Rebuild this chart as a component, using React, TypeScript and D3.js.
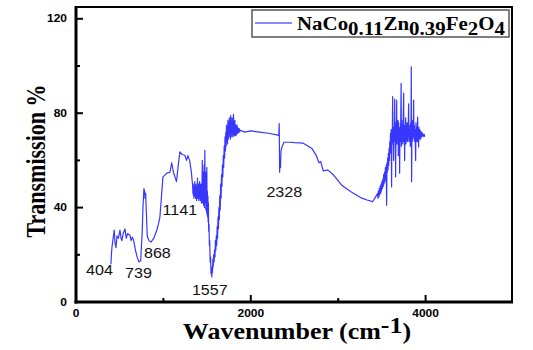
import React from "react";
import * as d3 from "d3";

const W = 533;
const H = 350;

// Spectrum as [wavenumber (cm-1), transmission (%)]
const lowRegion: [number, number][] = [
  [400, 16], [405, 20], [411, 23], [425, 27], [437, 30.5], [447, 25], [457, 23], [470, 28], [485, 27], [503, 30.5],
  [515, 27], [525, 26], [540, 29], [560, 31], [575, 27], [590, 29], [605, 28.5], [617, 28.5], [630, 26], [645, 27.5],
  [660, 26], [680, 22], [700, 19], [720, 17], [740, 17.5], [758, 30], [766, 40], [777, 48], [785, 47], [790, 44],
  [797, 46], [805, 38], [815, 28], [835, 26], [857, 25.4], [870, 26], [890, 27], [925, 30.5], [940, 32.6], [960, 36],
  [995, 53], [1040, 54.6], [1075, 55], [1095, 59], [1115, 55], [1150, 51], [1170, 58], [1189, 63.6], [1215, 62.5],
  [1245, 62.2], [1265, 60], [1280, 62], [1300, 60], [1320, 55],
];

const band1400: [number, number][] = [
  [1335, 49], [1338, 46], [1341, 50], [1344, 45], [1347, 48], [1350, 44], [1353, 49], [1356, 46], [1359, 51], [1362, 45],
  [1365, 48], [1368, 44], [1371, 50], [1374, 46], [1377, 49], [1380, 43], [1383, 48], [1386, 45], [1390, 52.5], [1393, 44],
  [1396, 49], [1399, 45], [1402, 50], [1405, 43], [1408, 48], [1411, 45], [1414, 51], [1417, 44], [1420, 48], [1423, 43],
  [1426, 50], [1429, 45], [1432, 49], [1435, 42], [1438, 50], [1441, 46], [1445, 60], [1448, 42], [1451, 51], [1454, 44],
  [1457, 55], [1460, 41], [1463, 50], [1466, 58], [1469, 40], [1472, 52], [1474, 64.3], [1477, 42], [1480, 50], [1483, 55],
  [1486, 39], [1489, 48], [1492, 52], [1495, 38], [1497, 57], [1500, 37], [1503, 47], [1506, 36], [1509, 45], [1512, 34],
  [1515, 42], [1518, 30], [1522, 33], [1526, 24], [1530, 26], [1535, 17], [1540, 19], [1545, 12], [1550, 14], [1554, 10.6],
  [1558, 15], [1562, 12.5], [1566, 18], [1570, 15], [1575, 20], [1580, 17], [1585, 22], [1590, 19],
];

const band1750: [number, number][] = [
  [1595, 26], [1600, 22], [1605, 28], [1610, 24], [1615, 32], [1620, 27], [1625, 36], [1630, 31], [1635, 40], [1640, 35],
  [1645, 45], [1650, 39], [1655, 50], [1660, 44], [1665, 54], [1670, 49], [1675, 58], [1680, 53], [1685, 62], [1690, 57],
  [1695, 66], [1700, 61], [1705, 70], [1710, 64], [1714, 72], [1718, 66], [1722, 75], [1726, 68], [1730, 74], [1734, 67],
  [1738, 77], [1742, 69], [1746, 76], [1750, 70], [1754, 78], [1758, 71], [1762, 75], [1766, 69], [1770, 79], [1774, 72],
  [1778, 76], [1782, 70], [1786, 78], [1790, 71], [1794, 75], [1798, 70], [1802, 79.5], [1806, 71], [1810, 76], [1814, 70.5],
  [1818, 77], [1822, 71], [1826, 75], [1830, 70.5], [1834, 74.5], [1838, 71], [1842, 75], [1846, 71.5], [1850, 74], [1854, 71.5],
  [1858, 73.5], [1862, 72], [1866, 73.5], [1870, 72], [1875, 73], [1880, 72.5],
];

const midRegion: [number, number][] = [
  [1900, 72.5], [1930, 72], [2000, 72.5], [2100, 72], [2200, 71.5], [2300, 70.8], [2320, 70.5], [2325, 75.6], [2330, 55],
  [2335, 60], [2340, 57], [2345, 64], [2360, 66], [2380, 67.7], [2450, 67.7], [2500, 67.5], [2600, 67.3], [2700, 65],
  [2750, 62], [2780, 59], [2800, 59.5], [2830, 55.5], [2880, 56], [2950, 53.7], [3040, 49.5], [3150, 46.6], [3270, 44],
  [3330, 43.2], [3394, 42.5], [3420, 44],
];

const band3700: [number, number][] = [
  [3450, 46], [3455, 44], [3460, 47], [3465, 44.5], [3470, 48], [3475, 45.5], [3480, 49], [3485, 46], [3490, 50], [3495, 47],
  [3500, 51], [3505, 48], [3510, 52], [3515, 49], [3520, 54], [3525, 50], [3530, 55], [3535, 51], [3540, 57], [3545, 52],
  [3550, 58], [3554, 41], [3558, 59], [3562, 55], [3566, 61], [3570, 56], [3574, 63], [3578, 58], [3582, 65], [3586, 60],
  [3590, 68], [3594, 63], [3598, 71.5], [3602, 65], [3606, 73], [3611, 48.8], [3614, 72], [3618, 67], [3623, 87], [3626, 69],
  [3630, 74], [3634, 60], [3638, 73], [3642, 68], [3646, 86], [3649, 70], [3653, 76], [3657, 53], [3661, 74], [3665, 68],
  [3669, 85.5], [3672, 67], [3676, 75], [3680, 69], [3684, 77], [3688, 62], [3692, 76], [3695, 68], [3699, 73], [3703, 54.6],
  [3707, 74], [3711, 68], [3715, 76], [3720, 92.7], [3723, 66], [3727, 77], [3731, 69], [3735, 75], [3739, 67], [3743, 76],
  [3749, 88.5], [3752, 68], [3756, 74], [3760, 60], [3764, 75], [3768, 69], [3772, 78], [3776, 67], [3780, 74], [3784, 69],
  [3788, 76], [3792, 68], [3796, 74], [3800, 70], [3806, 84], [3809, 68], [3813, 75], [3817, 69], [3821, 73], [3825, 66],
  [3829, 76], [3833, 70], [3836, 99.6], [3840, 51], [3844, 76], [3848, 68], [3852, 77], [3856, 70], [3860, 74], [3863, 85.5],
  [3867, 69], [3871, 75], [3875, 68], [3879, 73], [3883, 66], [3886, 60], [3890, 76], [3894, 69], [3898, 74], [3902, 68],
  [3906, 73], [3909, 78.4], [3913, 68], [3917, 72], [3920, 65.7], [3924, 74], [3928, 69], [3932, 73], [3936, 70], [3940, 72.5],
  [3944, 69], [3948, 72], [3952, 70], [3956, 72], [3960, 70.5], [3965, 71.5], [3970, 70], [3975, 71], [3980, 70.5], [3985, 71],
  [3989, 70],
];

const xMajorTicks: number[] = [0, 2000, 4000];
const xMinorTicks: number[] = [1000, 3000];
const yMajorTicks: number[] = [0, 40, 80, 120];
const yMinorTicks: number[] = [20, 60, 100];

const annotationLabels: string[] = ["404", "739", "868", "1141", "1557", "2328"];
const annotationX: number[] = [269, 714, 931, 1189, 1531, 2383];
const annotationY: number[] = [11.4, 10.2, 18.6, 36.8, 3, 44.4];

const xDomain: [number, number] = [0, 5000];
const yDomain: [number, number] = [0, 125];

export default function App() {
  const left = 76;
  const right = 513;
  const top = 7;
  const bottom = 302;
  const x = d3.scaleLinear().domain(xDomain).range([left, right]);
  const y = d3.scaleLinear().domain(yDomain).range([bottom, top]);

  const pts: [number, number][] = [...lowRegion, ...band1400, ...band1750, ...midRegion, ...band3700];
  const line = d3
    .line<[number, number]>()
    .x((d) => x(d[0]))
    .y((d) => y(d[1]));

  const blue = "#1414ff";
  const serif = "'Liberation Serif', 'Times New Roman', serif";
  const sans = "'Liberation Sans', Arial, sans-serif";

  return (
    <svg
      width={W}
      height={H}
      viewBox={`0 0 ${W} ${H}`}
      style={{ position: "absolute", left: 0, top: 0, background: "#fff" }}
    >
      <rect x={0} y={0} width={W} height={H} fill="#fff" />

      {/* spectrum */}
      <path d={line(pts) || ""} fill="none" stroke={blue} strokeWidth={1.2} strokeOpacity={0.85} strokeLinejoin="round" />

      {/* frame */}
      <line x1={left} x2={right - 1} y1={top} y2={top} stroke="#000" strokeWidth={2} />
      <line x1={right - 1} x2={right - 1} y1={top - 1} y2={bottom} stroke="#000" strokeWidth={2} />
      <line x1={left} x2={left} y1={top - 1} y2={bottom + 1.5} stroke="#000" strokeWidth={3} />
      <line x1={left - 1.5} x2={right} y1={bottom} y2={bottom} stroke="#000" strokeWidth={3} />

      {/* y ticks */}
      {yMajorTicks.map((t) => (
        <g key={"ym" + t}>
          <line x1={left} x2={left + 7} y1={y(t)} y2={y(t)} stroke="#000" strokeWidth={2} />
          <text
            transform={`translate(${left - 9},${y(t) + 3.5}) scale(1.2,1)`}
            textAnchor="end"
            fontFamily={sans}
            fontWeight="bold"
            fontSize={10}
            fill="#000"
          >
            {t}
          </text>
        </g>
      ))}
      {yMinorTicks.map((t) => (
        <line key={"yn" + t} x1={left} x2={left + 4} y1={y(t)} y2={y(t)} stroke="#000" strokeWidth={2} />
      ))}

      {/* x ticks */}
      {xMajorTicks.map((t) => (
        <g key={"xm" + t}>
          <line x1={x(t)} x2={x(t)} y1={bottom} y2={bottom - 7} stroke="#000" strokeWidth={2} />
          <text
            transform={`translate(${x(t)},317) scale(1.2,1)`}
            textAnchor="middle"
            fontFamily={sans}
            fontWeight="bold"
            fontSize={10}
            fill="#000"
          >
            {t}
          </text>
        </g>
      ))}
      {xMinorTicks.map((t) => (
        <line key={"xn" + t} x1={x(t)} x2={x(t)} y1={bottom} y2={bottom - 4} stroke="#000" strokeWidth={2} />
      ))}

      {/* annotations */}
      {annotationLabels.map((lab, i) => (
        <text
          key={lab}
          transform={`translate(${x(annotationX[i])},${y(annotationY[i])}) scale(1.15,1)`}
          textAnchor="middle"
          fontFamily={sans}
          fontSize={14}
          fill="#111"
        >
          {lab}
        </text>
      ))}

      {/* axis titles */}
      <text
        transform="translate(45,161) rotate(-90) scale(1,1.2)"
        textAnchor="middle"
        fontFamily={serif}
        fontWeight="bold"
        fontSize={22}
        fill="#000"
      >
        Transmission %
      </text>
      <text
        transform="translate(297,339) scale(1.13,1)"
        textAnchor="middle"
        fontFamily={serif}
        fontWeight="bold"
        fontSize={23}
        fill="#000"
      >
        Wavenumber (cm
        <tspan dy={-6}>-1</tspan>
        <tspan dy={6}>)</tspan>
      </text>

      {/* legend */}
      <rect x={252} y={10} width={257} height={27} fill="#fff" stroke="#555" strokeWidth={1.5} />
      <line x1={255} x2={292} y1={23} y2={23} stroke={blue} strokeWidth={1} />
      <text
        transform="translate(297,30) scale(1.1,1)"
        fontFamily={serif}
        fontWeight="bold"
        fontSize={19}
        fill="#000"
      >
        NaCo
        <tspan dy={5}>0.11</tspan>
        <tspan dy={-5}>Zn</tspan>
        <tspan dy={5}>0.39</tspan>
        <tspan dy={-5}>Fe</tspan>
        <tspan dy={5}>2</tspan>
        <tspan dy={-5}>O</tspan>
        <tspan dy={5}>4</tspan>
      </text>
    </svg>
  );
}
